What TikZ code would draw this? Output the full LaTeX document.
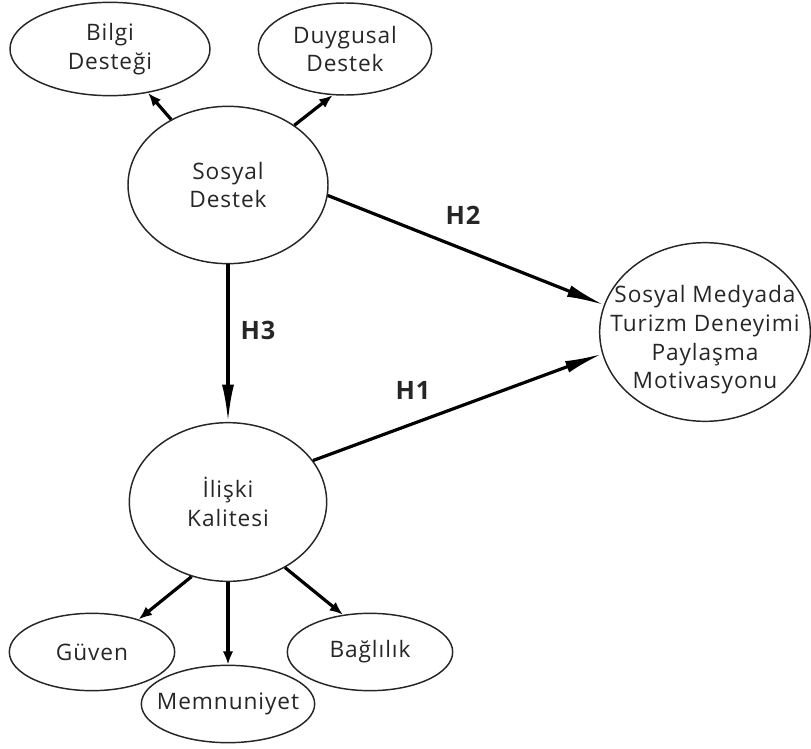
\documentclass[tikz,border=0pt]{standalone}
\usepackage{fontspec}
\setmainfont[LetterSpace=4]{Open Sans}
\usepackage{tikz}
\usetikzlibrary{shapes.geometric, arrows.meta, positioning}
\tikzstyle{oval} = [ellipse, draw=black!85, line width=1.1pt, inner sep=0pt]
\tikzstyle{txt} = [align=center, text=black!85, font=\fontsize{17}{21.5}\selectfont]
\tikzstyle{arrow} = [line width=2.4pt, -{Latex[length=10pt, width=8pt]}]
\tikzstyle{hyparrow} = [line width=2.4pt, -{Latex[length=28pt, width=9pt]}]
\tikzstyle{hyp} = [text=black!85, font=\bfseries\fontsize{19}{22}\selectfont]

\begin{document}
\begin{tikzpicture}[x=0.75pt, y=-0.75pt]
    \useasboundingbox (0,0) rectangle (811,749);
    % constructs
    \node (sd) [oval, minimum width=150pt, minimum height=118pt, label={[txt]center:Sosyal\\Destek}] at (228,185) {};
    \node (bd) [oval, minimum width=150pt, minimum height=70pt, label={[txt]center:Bilgi\\Desteği}] at (110,49) {};
    \node (dd) [oval, minimum width=130pt, minimum height=69pt, label={[txt]center:Duygusal\\Destek}] at (345,49) {};
    \node (sm) [oval, minimum width=158pt, minimum height=134pt, label={[txt, yshift=-6pt]center:Sosyal Medyada\\Turizm Deneyimi\\Paylaşma\\Motivasyonu}] at (705,332) {};
    \node (ik) [oval, minimum width=148pt, minimum height=119pt, label={[txt]center:İlişki\\Kalitesi}] at (228,502) {};
    \node (gv) [oval, minimum width=124pt, minimum height=58pt, label={[txt]center:Güven}] at (92,652) {};
    \node (mn) [oval, minimum width=130pt, minimum height=58pt, label={[txt]center:Memnuniyet}] at (228,704) {};
    \node (bl) [oval, minimum width=124pt, minimum height=58pt, label={[txt]center:Bağlılık}] at (370,652) {};

    % hypothesis labels
    \node (h2) [hyp] at (463,215) {H2};
    \node (h1) [hyp] at (413,390) {H1};
    \node (h3) [hyp] at (258,330) {H3};

    \draw [arrow] (sd) -- (bd);
    \draw [arrow] (sd.42) -- (dd.-105);
    \draw [hyparrow] (sd.-6) -- (sm.165);
    \draw [hyparrow] (ik.26) -- (sm.192);
    \draw [hyparrow] (sd) -- (ik);
    \draw [arrow] (ik.244) -- (gv.35);
    \draw [arrow] (ik) -- (mn);
    \draw [arrow] (ik.-49) -- (bl.126);
\end{tikzpicture}
\end{document}
